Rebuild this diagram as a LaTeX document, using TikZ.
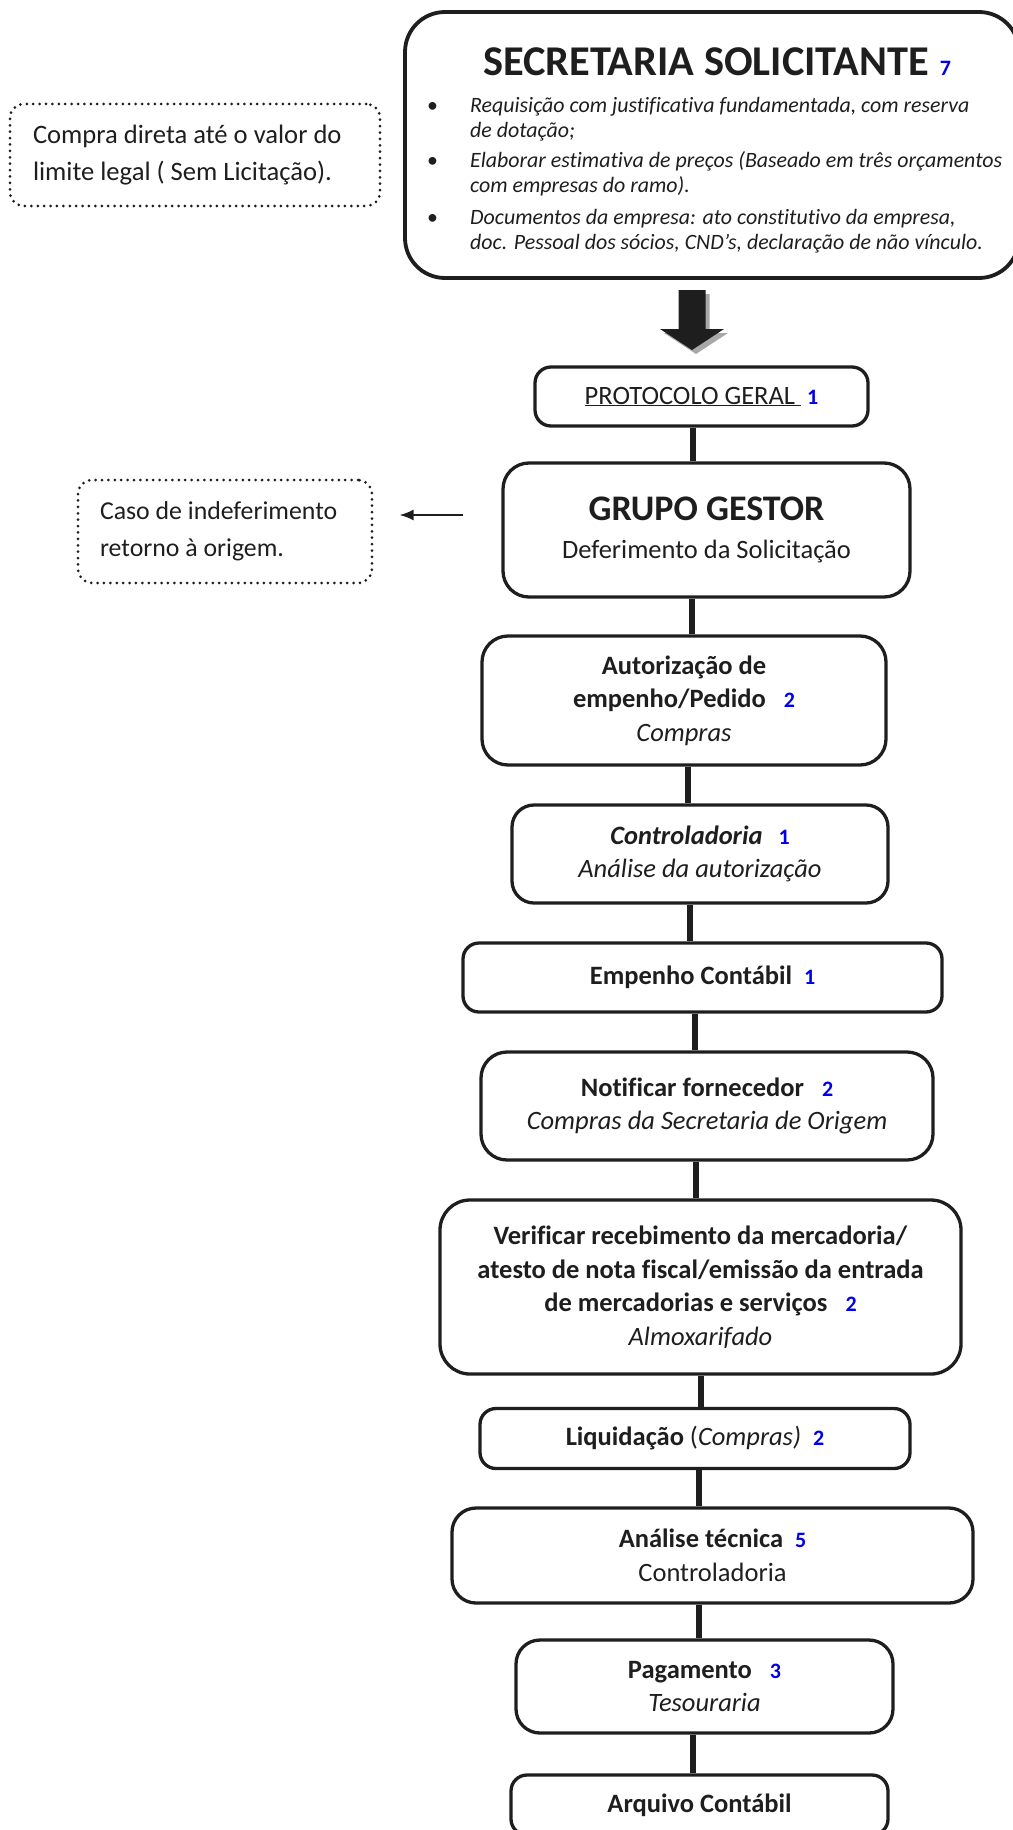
\documentclass[tikz,border=0pt]{standalone}
\usepackage{fontspec}
\setmainfont{Carlito}[Ligatures={NoCommon}]
\usetikzlibrary{arrows.meta}
\definecolor{ink}{HTML}{1E1E1E}
\definecolor{numblue}{RGB}{0,0,240}
\definecolor{shadowgray}{HTML}{A8A8A8}
\newcommand{\nbr}[1]{\textcolor{numblue}{\fontsize{22}{22}\selectfont\upshape\bfseries #1}}
\newcommand{\bodyfnt}{\fontsize{26.5}{33.5}\selectfont}
\tikzset{
  flowbox/.style={draw=ink, line width=3.3pt, rounded corners=#1, align=center, inner sep=0pt, text=ink, font=\bodyfnt},
  flowbox/.default=18pt,
  notebox/.style={draw=ink, line width=3pt, dash pattern=on 0pt off 6.4pt, line cap=round, rounded corners=14pt, align=flush left, inner sep=0pt, text=ink},
  conn/.style={draw=ink, line width=5.5pt},
}
\begin{document}
\begin{tikzpicture}[x=1pt,y=-1pt]
\useasboundingbox (0,0) rectangle (1012,1830);

% side notes
\node[notebox, minimum width=370pt, minimum height=102pt, text width=324pt, font=\fontsize{26.6}{37}\selectfont] (compra) at (195,155) {Compra direta até o valor do\\limite legal ( Sem Licitação).};
\node[notebox, minimum width=294pt, minimum height=103pt, text width=250pt, font=\fontsize{25.8}{37}\selectfont] (caso) at (225,531.5) {Caso de indeferimento\\retorno à origem.};

% secretaria
\node[flowbox=40pt, line width=3.8pt, minimum width=614pt, minimum height=266pt] (sec) at (712,145) {};
\node[anchor=base west, inner sep=0pt, text=ink, font=\fontsize{42.4}{42.4}\selectfont\bfseries] (sectitle) at (483,76) {SECRETARIA SOLICITANTE\hspace{11pt}\nbr{7}};
\node[anchor=north west, inner sep=0pt, text=ink, font=\fontsize{21.9}{25}\selectfont\itshape] (secitems) at (427,94.5) {%
\begin{tabular}{@{}l@{}l@{}}
\makebox[43pt][l]{\upshape\textbullet} & Requisição com justificativa fundamentada, com reserva\\
 & de dotação;\\[5pt]
\makebox[43pt][l]{\upshape\textbullet} & Elaborar estimativa de preços (Baseado em três orçamentos\\
 & com empresas do ramo).\\[7pt]
\makebox[43pt][l]{\upshape\textbullet} & Documentos da empresa: ato constitutivo da empresa,\\
 & doc. Pessoal dos sócios, CND’s, declaração de não vínculo.
\end{tabular}};

% big block arrow with shadow
\fill[shadowgray, shift={(4,4)}] (678.5,290) -- (705.5,290) -- (705.5,329) -- (724,329) -- (692,350) -- (660,329) -- (678.5,329) -- cycle;
\fill[ink] (678.5,290) -- (705.5,290) -- (705.5,329) -- (724,329) -- (692,350) -- (660,329) -- (678.5,329) -- cycle;

% flow boxes
\node[flowbox=16pt, minimum width=333pt, minimum height=59pt] (proto) at (701.5,396.5) {\underline{PROTOCOLO GERAL\ }\hspace{6pt}\nbr{1}};
\node[flowbox=26pt, minimum width=407pt, minimum height=134pt] (grupo) at (706.5,530) {{\fontsize{36}{36}\selectfont\bfseries GRUPO GESTOR}\\[5pt]Deferimento da Solicitação};
\node[flowbox=26pt, minimum width=404pt, minimum height=129pt] (aut) at (684,700.5) {\textbf{Autorização de}\\\textbf{empenho/Pedido}\hspace{18pt}\nbr{2}\\\textit{Compras}};
\node[flowbox=22pt, minimum width=376pt, minimum height=98pt] (ctrl) at (700,854) {\textbf{\textit{Controladoria}}\hspace{16pt}\nbr{1}\\\textit{Análise da autorização}};
\node[flowbox=16pt, minimum width=479pt, minimum height=69pt] (emp) at (702.5,977.5) {\textbf{Empenho Contábil}\hspace{12pt}\nbr{1}};
\node[flowbox=26pt, minimum width=452pt, minimum height=108pt] (notif) at (707,1106) {\textbf{Notificar fornecedor}\hspace{18pt}\nbr{2}\\\textit{Compras da Secretaria de Origem}};
\node[flowbox=30pt, minimum width=521pt, minimum height=174pt] (verif) at (700.5,1287) {\textbf{Verificar recebimento da mercadoria/}\\\textbf{atesto de nota fiscal/emissão da entrada}\\\textbf{de mercadorias e serviços}\hspace{18pt}\nbr{2}\\\textit{Almoxarifado}};
\node[flowbox=16pt, minimum width=430pt, minimum height=60pt] (liq) at (695,1438.5) {\textbf{Liquidação} (\textit{Compras)}\hspace{12pt}\nbr{2}};
\node[flowbox=24pt, minimum width=521pt, minimum height=95pt] (anal) at (712.5,1555.5) {\textbf{Análise técnica}\hspace{12pt}\nbr{5}\\Controladoria};
\node[flowbox=24pt, minimum width=377pt, minimum height=93pt] (pag) at (704.5,1686.5) {\textbf{Pagamento}\hspace{18pt}\nbr{3}\\\textit{Tesouraria}};
\node[flowbox=16pt, minimum width=377pt, minimum height=60pt] (arq) at (699.5,1805) {\textbf{Arquivo Contábil}};

% connectors
\coordinate (x1) at (693,0);
\coordinate (x2) at (692,0);
\coordinate (x3) at (688,0);
\coordinate (x4) at (690,0);
\coordinate (x5) at (695,0);
\coordinate (x6) at (696,0);
\coordinate (x7) at (701,0);
\coordinate (x8) at (699,0);
\coordinate (x9) at (699,0);
\coordinate (x10) at (693,0);
\draw[conn] (proto.south -| x1) -- (grupo.north -| x1);
\draw[conn] (grupo.south -| x2) -- (aut.north -| x2);
\draw[conn] (aut.south -| x3) -- (ctrl.north -| x3);
\draw[conn] (ctrl.south -| x4) -- (emp.north -| x4);
\draw[conn] (emp.south -| x5) -- (notif.north -| x5);
\draw[conn] (notif.south -| x6) -- (verif.north -| x6);
\draw[conn] (verif.south -| x7) -- (liq.north -| x7);
\draw[conn] (liq.south -| x8) -- (anal.north -| x8);
\draw[conn] (anal.south -| x9) -- (pag.north -| x9);
\draw[conn] (pag.south -| x10) -- (arq.north -| x10);

% indeferimento arrow
\coordinate (arrS) at (463,515);
\draw[ink, line width=2pt, -{Latex[length=14pt,width=11pt]}, shorten >=26pt] (arrS) -- (caso.east |- arrS);
\end{tikzpicture}
\end{document}
